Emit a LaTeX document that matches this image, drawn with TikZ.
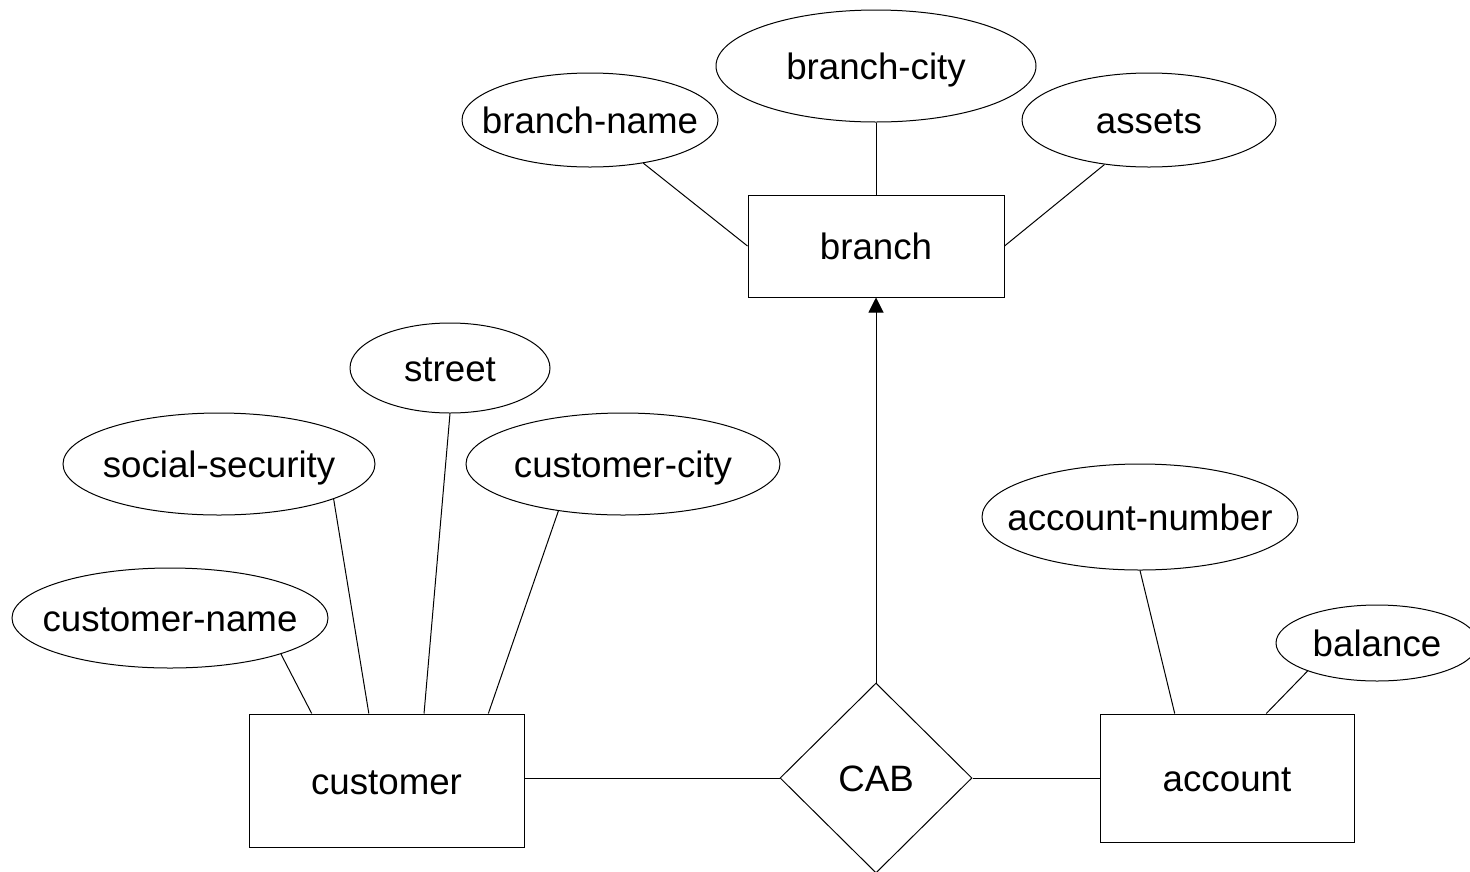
\documentclass[tikz,border=0pt]{standalone}
\usepackage{fontspec}
\setmainfont{Liberation Sans}
\usetikzlibrary{shapes.geometric,arrows.meta,calc}
\tikzset{
  base/.style={draw=black, line width=1pt, inner sep=0pt, font=\fontsize{36.7}{44}\selectfont, text height=27pt, text depth=0pt},
  entity/.style={base, rectangle},
  attr/.style={base, ellipse},
  rel/.style={base, diamond},
  conn/.style={line width=1pt},
}
\newcommand{\zt}[1]{\makebox[0pt]{#1}}
\begin{document}
\begin{tikzpicture}[x=1pt,y=-1pt]
\useasboundingbox (0,0) rectangle (1470,871);
\clip (0,0) rectangle (1470,871);
\fill[white] (0,0) rectangle (1470,871);
% entities
\node[entity, minimum width=256pt, minimum height=102pt] (branch) at (876,246) {branch};
\node[entity, minimum width=275pt, minimum height=133pt] (customer) at (386.5,780.5) {customer};
\node[entity, minimum width=254pt, minimum height=128pt] (account) at (1227,778) {account};
% relationship
\node[rel, minimum width=192pt, minimum height=190pt] (cab) at (876,778) {CAB};
% attributes
\node[attr, minimum width=320pt, minimum height=112pt] (bc) at (876,66) {\zt{branch-city}};
\node[attr, minimum width=256pt, minimum height=94pt] (bn) at (590,120) {\zt{branch-name}};
\node[attr, minimum width=254pt, minimum height=94pt] (as) at (1149,120) {\zt{assets}};
\node[attr, minimum width=200pt, minimum height=90pt] (st) at (450,368) {\zt{street}};
\node[attr, minimum width=312pt, minimum height=102pt] (ss) at (219,464) {\zt{social-security}};
\node[attr, minimum width=314pt, minimum height=102pt] (cc) at (623,464) {\zt{customer-city}};
\node[attr, minimum width=316pt, minimum height=100pt] (cn) at (170,618) {\zt{customer-name}};
\node[attr, minimum width=316pt, minimum height=106pt] (an) at (1140,517) {\zt{account-number}};
\node[attr, minimum width=202pt, minimum height=76pt] (ba) at (1377,643) {\zt{balance}};
% connectors: branch
\draw[conn] (bn.-39) -- (branch.west);
\draw[conn] (bc.south) -- (branch.north);
\draw[conn] (as.-135) -- (branch.east);
% connectors: customer
\draw[conn] (cn.-18) -- ($(customer.north west)!0.229!(customer.north east)$);
\draw[conn] (ss.-17) -- ($(customer.north west)!0.436!(customer.north east)$);
\draw[conn] (st.south) -- ($(customer.north west)!0.636!(customer.north east)$);
\draw[conn] (cc.-144) -- ($(customer.north west)!0.869!(customer.north east)$);
% connectors: account
\draw[conn] (an.south) -- ($(account.north west)!0.295!(account.north east)$);
\draw[conn] (ba.-158) -- ($(account.north west)!0.654!(account.north east)$);
% relationship connectors
\draw[conn] (cab.west -| customer.east) -- (cab.west);
\draw[conn] (cab.east) -- (cab.east -| account.west);
\draw[conn, -{Triangle[length=15pt,width=15pt]}] (cab.north) -- (branch.south);
\end{tikzpicture}
\end{document}
